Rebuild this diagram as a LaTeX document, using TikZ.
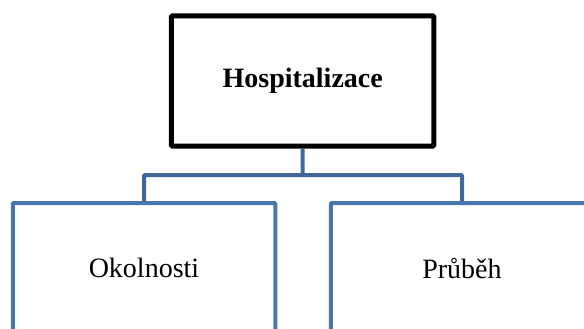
\documentclass[tikz,border=0pt]{standalone}
\usepackage{fontspec}
\setmainfont{Liberation Serif}
\definecolor{boxblue}{RGB}{72,117,173}
\definecolor{linkblue}{RGB}{64,104,152}
\tikzset{
    headbox/.style={rectangle, draw=black, line width=5pt, rounded corners=1pt,
        minimum width=262.5pt, minimum height=130pt, inner sep=0pt,
        font=\fontsize{28}{34}\selectfont\bfseries},
    itembox/.style={rectangle, draw=boxblue, line width=4pt, rounded corners=1pt,
        minimum width=262.5pt, minimum height=130pt, inner sep=0pt,
        font=\fontsize{28}{34}\selectfont},
    link/.style={draw=linkblue, line width=4pt, rounded corners=1pt}
}
\begin{document}
\begin{tikzpicture}[x=1pt, y=-1pt]
        \clip (0,0) rectangle (584,329);
        \useasboundingbox (0,0) rectangle (584,329);

        \node[headbox] (hosp) at (302.7, 81) {Hospitalizace};
        \node[itembox] (okol) at (144, 268) {Okolnosti};
        \node[itembox] (prub) at (462, 268) {Průběh};
        \coordinate (fork) at (302.7, 175);

        \draw[link] (hosp.south) -- (fork) -| (okol.north);
        \draw[link] (fork) -| (prub.north);

    \end{tikzpicture}
\end{document}
